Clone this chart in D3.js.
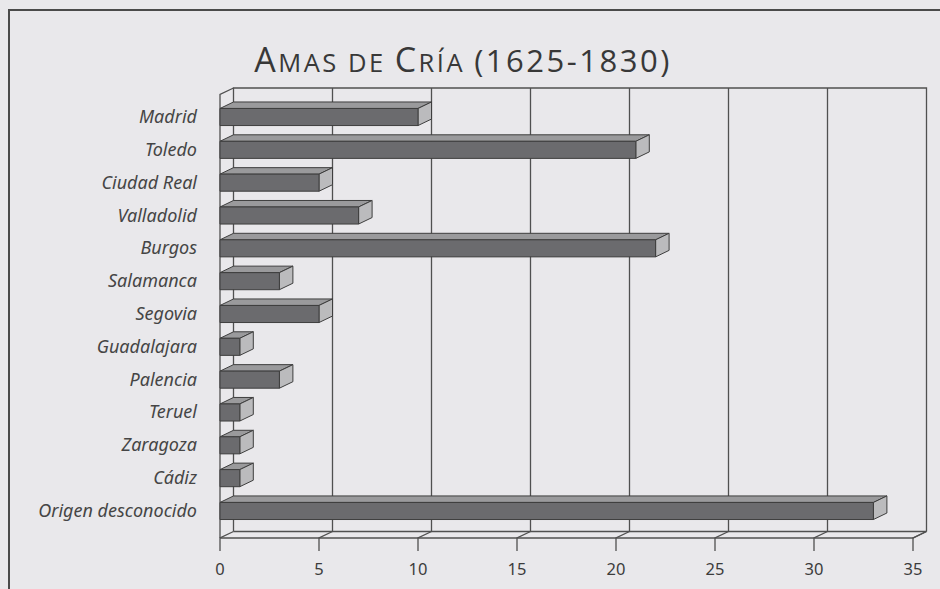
<!DOCTYPE html>
<html lang="es">
<head>
<meta charset="UTF-8" />
<title>Amas de Cría (1625-1830)</title>
<style>
  body { margin: 0; background: #e9e8eb; }
  svg { display: block; }
</style>
</head>
<body>
<svg id="chart"></svg>
<script src="https://d3js.org/d3.v7.min.js"></script>
<script>
  const categories = ['Madrid', 'Toledo', 'Ciudad Real', 'Valladolid', 'Burgos', 'Salamanca',
    'Segovia', 'Guadalajara', 'Palencia', 'Teruel', 'Zaragoza', 'Cádiz', 'Origen desconocido'];
  const values = [10, 21, 5, 7, 22, 3, 5, 1, 3, 1, 1, 1, 33];
  const tickValues = [0, 5, 10, 15, 20, 25, 30, 35];

  const width = 940, height = 589;
  const depth = { dx: 13.5, dy: -6.5 }; // 3d offset of the back plane
  const floorY = 538;
  const wallTop = 88;

  const svg = d3.select('#chart').attr('width', width).attr('height', height);
  svg.append('rect').attr('width', width).attr('height', height).attr('fill', '#e9e8eb');

  // page frame
  svg.append('path')
    .attr('d', 'M9,589 V10 H940')
    .attr('fill', 'none').attr('stroke', '#4a4a4a').attr('stroke-width', 2);

  // title, small caps done by hand
  const title = svg.append('text')
    .attr('x', 463).attr('y', 72)
    .attr('text-anchor', 'middle')
    .style('font-family', '"Open Sans", Lato, sans-serif')
    .style('letter-spacing', '2.5px')
    .attr('fill', '#383838');
  [['A', 34], ['MAS DE ', 25.5], ['C', 34], ['RÍA ', 25.5], ['(1625-1830)', 31]].forEach(([t, s]) => {
    title.append('tspan').style('font-size', s + 'px').text(t);
  });

  const x = d3.scaleLinear().domain([0, 35]).range([220, 913]);
  const y = d3.scaleBand().domain(categories).range([100.6, 527.4])
    .paddingInner(0.48).paddingOuter(0.24);

  const line = '#505050';
  const frame = svg.append('g').attr('fill', 'none').attr('stroke', line).attr('stroke-width', 1.3);
  const x0 = x(0), x1 = x(35);
  const { dx, dy } = depth;

  // back wall outline + gridlines
  frame.append('path').attr('d',
    `M${x0 + dx},${floorY + dy} V${wallTop} H${x1 + dx} V${floorY + dy}`);
  tickValues.slice(1, -1).forEach(t => {
    frame.append('line')
      .attr('x1', x(t) + dx).attr('x2', x(t) + dx)
      .attr('y1', wallTop).attr('y2', floorY + dy);
  });
  // left side wall
  frame.append('path').attr('d',
    `M${x0},${floorY} V${wallTop - dy} L${x0 + dx},${wallTop}`);
  // floor
  frame.append('path').attr('d',
    `M${x0},${floorY} H${x1} L${x1 + dx},${floorY + dy} M${x0 + dx},${floorY + dy} H${x1 + dx}`);
  tickValues.forEach(t => {
    frame.append('path').attr('d',
      `M${x(t) + dx},${floorY + dy} L${x(t)},${floorY} V${floorY + 13}`);
  });

  svg.append('g').selectAll('text').data(tickValues).join('text')
    .attr('x', d => x(d)).attr('y', 575)
    .attr('text-anchor', 'middle')
    .style('font-family', '"Noto Sans", sans-serif').style('font-size', '16.5px')
    .attr('fill', '#3c3c3c')
    .text(d => d);

  // category labels
  svg.append('g').selectAll('text').data(categories).join('text')
    .attr('x', 197).attr('y', d => y(d) + y.bandwidth() / 2 + 6)
    .attr('text-anchor', 'end')
    .style('font-family', '"Noto Sans", sans-serif').style('font-style', 'italic')
    .style('font-size', '18px')
    .attr('fill', '#454545')
    .text(d => d);

  // 3d bars
  const h = y.bandwidth();
  const bars = svg.append('g').attr('stroke', '#3e3e3e').attr('stroke-width', 1)
    .attr('stroke-linejoin', 'round')
    .selectAll('g').data(categories.map((c, i) => ({ c, v: values[i] }))).join('g');

  bars.append('path')
    .attr('fill', '#9a9a9c')
    .attr('d', d => {
      const t = y(d.c), xv = x(d.v);
      return `M${x0},${t} L${x0 + dx},${t + dy} H${xv + dx} L${xv},${t} Z`;
    });
  bars.append('path')
    .attr('fill', '#bbbbbd')
    .attr('d', d => {
      const t = y(d.c), xv = x(d.v);
      return `M${xv},${t} L${xv + dx},${t + dy} V${t + h + dy} L${xv},${t + h} Z`;
    });
  bars.append('rect')
    .attr('fill', '#6b6b6e')
    .attr('x', x0).attr('y', d => y(d.c))
    .attr('width', d => x(d.v) - x0).attr('height', h);
</script>
</body>
</html>
